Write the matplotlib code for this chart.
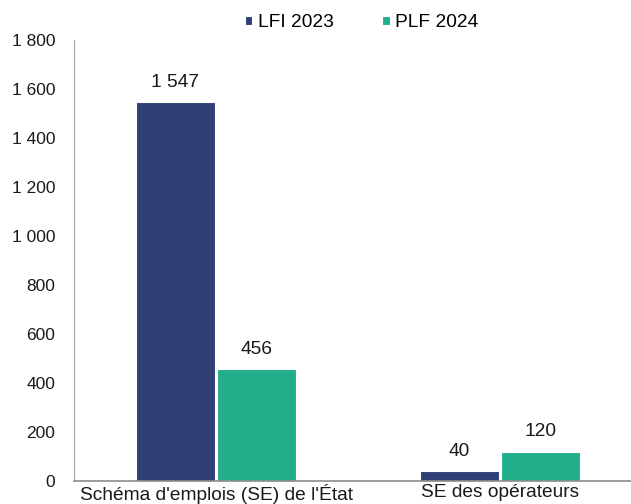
import matplotlib.pyplot as plt
import numpy as np

plt.rcParams['font.family'] = ['Liberation Sans', 'DejaVu Sans']

categories = ["Schéma d'emplois (SE) de l'État", "SE des opérateurs"]
lfi_2023 = [1547, 40]
plf_2024 = [456, 120]
yticks = [0, 200, 400, 600, 800, 1000, 1200, 1400, 1600, 1800]

navy = "#2F3F74"
green = "#22AE8B"


def fmt(v):
    return "{:,}".format(v).replace(",", " ")


fig = plt.figure(figsize=(6.31, 5.04), dpi=100)
ax = fig.add_axes([74 / 631, (504 - 481) / 504, (631 - 74) / 631, (481 - 40) / 504])

x = np.arange(len(categories))
w = 0.278
b1 = ax.bar(x - 0.1435, lfi_2023, w, color=navy, edgecolor="white", linewidth=0.8, label="LFI 2023")
b2 = ax.bar(x + 0.1435, plf_2024, w, color=green, edgecolor="white", linewidth=0.8, label="PLF 2024")

for bars, vals in ((b1, lfi_2023), (b2, plf_2024)):
    for r, v in zip(bars, vals):
        ax.annotate(fmt(v), (r.get_x() + r.get_width() / 2, v), xytext=(0, 8),
                    textcoords="offset points", ha="center", va="bottom", fontsize=13.8, color="#1a1a1a")

ax.set_xlim(-0.5, 1.5 - 11 / 284)
ax.set_ylim(0, 1800)
ax.set_yticks(yticks)
ax.set_yticklabels([fmt(t) for t in yticks], fontsize=12.5)
ax.set_xticks(x)
ax.set_xticklabels(categories, fontsize=13.8)
ax.tick_params(axis="both", length=0, colors="#1a1a1a")
ax.tick_params(axis="y", pad=13.5)
ax.tick_params(axis="x", pad=2)

for s in ("top", "right"):
    ax.spines[s].set_visible(False)
ax.spines["left"].set_color("#A6A6A6")
ax.spines["bottom"].set_color("#8C8C8C")
ax.spines["bottom"].set_linewidth(1.2)

fig.legend(handles=[b1, b2], loc="upper center", bbox_to_anchor=(0.573, 1.006), ncol=2, frameon=False,
           fontsize=13.8, handlelength=0.4, handleheight=0.4, handletextpad=0.3, columnspacing=2.5)

plt.savefig("out.png", dpi=100)
